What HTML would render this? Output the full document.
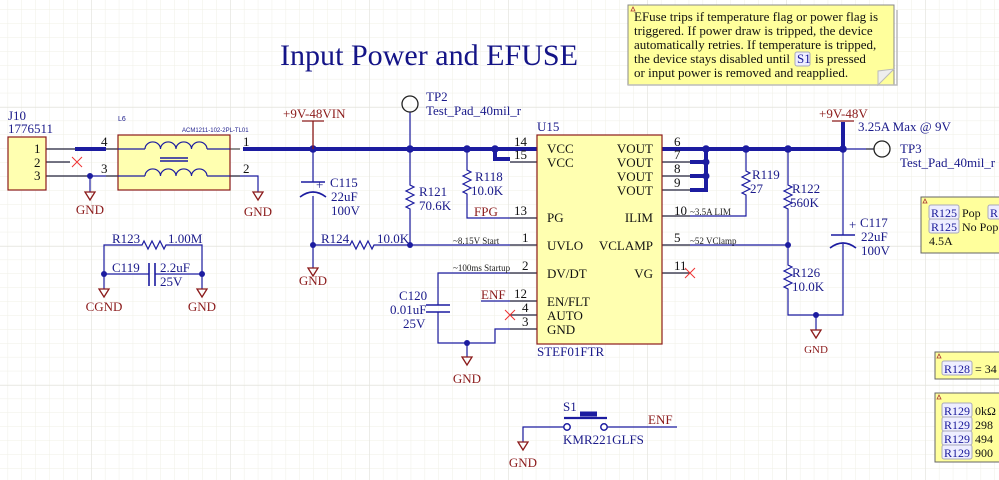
<!DOCTYPE html>
<html><head><meta charset="utf-8"><style>
html,body{margin:0;padding:0;background:#fff;}
svg{display:block;}
text{font-family:"Liberation Serif",serif;}
</style></head><body>
<svg width="999" height="480" viewBox="0 0 999 480" xmlns="http://www.w3.org/2000/svg">
<defs>
<pattern id="g" x="7.6" y="9.4" width="13.9" height="13.9" patternUnits="userSpaceOnUse">
<path d="M0 0V13.9M0 0H13.9" stroke="#efefe6" stroke-width="1" fill="none"/>
</pattern>
<pattern id="G" x="91" y="107" width="139" height="139" patternUnits="userSpaceOnUse">
<path d="M0 0V139M0 0H139" stroke="#e2e2dc" stroke-width="1.3" fill="none"/>
</pattern>
</defs>
<rect width="999" height="480" fill="url(#g)"/>
<rect width="999" height="480" fill="url(#G)"/>

<text x="280" y="65" font-size="30" fill="#141487" textLength="298" lengthAdjust="spacingAndGlyphs">Input Power and EFUSE</text>

<!-- top note -->
<rect x="628" y="5" width="266" height="80" fill="#ffff9c" stroke="#888" stroke-width="1"/>
<path d="M628 85H897V10" stroke="#bbb" fill="none" stroke-width="1.5"/>
<path d="M878 85L894 69L878 71Z" fill="#eee" stroke="#bbb"/>
<path d="M631 11l2-4 2 4z" fill="none" stroke="#a33" stroke-width="0.8"/>
<g font-size="13" fill="#111">
<text x="634" y="21">EFuse trips if temperature flag or power flag is</text>
<text x="634" y="35">triggered. If power draw is tripped, the device</text>
<text x="634" y="49">automatically retries. If temperature is tripped,</text>
<text x="634" y="63">the device stays disabled until</text>
<text x="815" y="63">is pressed</text>
<text x="634" y="77">or input power is removed and reapplied.</text>
</g>
<rect x="795" y="52" width="15" height="14" fill="#eef" stroke="#aab" rx="2"/>
<text x="797" y="63" font-size="13" fill="#1a1a9a">S1</text>

<g stroke="#1c1ca0" fill="none" stroke-width="1.2">
<path d="M46 149H75M46 162H70M46 176H118M106 149H118"/>
<path d="M90 176V192"/>
<path d="M230 176H258V192"/>
<path d="M313 149V182M313 196V268"/>
<path d="M301 182H325" stroke-width="1.6"/>
<path d="M300 197Q313 187 326 197" stroke-width="1.6"/>
<path d="M410 112V185l4 2-8 4 8 4-8 4 8 4-8 4 4 2V245"/>
<path d="M313 245H350l2-4 4 8 4-8 4 8 4-8 4 8 2-4H537"/>
<path d="M467 149V170l4 2-8 4 8 4-8 4 8 4-8 4 4 2V218H537"/>
<path d="M510 149H537M510 162H537"/>
<path d="M537 273H438V305M438 312V343H495V329H537"/>
<path d="M426 305H450M426 312H450" stroke-width="1.6"/>
<path d="M467 343V357"/>
<path d="M481 301H537M510 315H537"/>
<path d="M662 149H690M662 162H706M662 176H706M662 190H706"/>
<path d="M662 216H746V195l-4-2 8-4-8-4 8-4-8-4 8-4-4-2V149"/>
<path d="M662 245H788M662 273H690"/>
<path d="M788 149V185l4 2-8 4 8 4-8 4 8 4-8 4 4 2V265l4 2-8 4 8 4-8 4 8 4-8 4 4 2V315H843V244"/>
<path d="M816 315V330"/>
<path d="M843 149V235"/>
<path d="M831 235H855" stroke-width="1.6"/>
<path d="M830 248Q843 238 856 248" stroke-width="1.6"/>
<path d="M843 149H874"/>
<path d="M104 289V245H142l2-4 4 8 4-8 4 8 4-8 4 8 2-4H202V289"/>
<path d="M104 274H149M155 274H202"/>
<path d="M149 263V286M155 263V286" stroke-width="1.6"/>
<path d="M523 442V427H564M607 427H677"/>
<path d="M564 418H607" stroke-width="2.2"/>
<path d="M580 414H597" stroke-width="5"/>
</g>
<g stroke="#222" stroke-width="1">
<path d="M46 149H75M46 162H70M46 176H90M230 149H240M230 176H240M106 149H118M106 176H118"/>
<path d="M510 149H537M510 162H537M510 218H537M510 245H537M510 273H537M510 301H537M510 315H537M510 329H537"/>
<path d="M662 149H690M662 162H690M662 176H690M662 190H690M662 216H690M662 245H690M662 273H690"/>
<path d="M874 149H866"/>
</g>
<g stroke="#1c1ca0" stroke-width="4" fill="none" stroke-linecap="butt">
<path d="M75 149H106"/>
<path d="M243 149H843"/>
<path d="M495 149V159H510"/>
<path d="M690 149H843M706 149V190H690M706 162H690M706 176H690"/>
<path d="M843 122V149"/>
</g>
<g fill="#1c1ca0">
<circle cx="90" cy="176" r="3"/>
<circle cx="313" cy="149" r="3.8"/><circle cx="410" cy="149" r="3.8"/><circle cx="467" cy="149" r="3.8"/><circle cx="495" cy="149" r="3.8"/>
<circle cx="313" cy="245" r="3"/><circle cx="410" cy="245" r="3"/><circle cx="467" cy="343" r="3"/>
<circle cx="706" cy="149" r="3.8"/><circle cx="706" cy="162" r="3.5"/><circle cx="706" cy="176" r="3.5"/>
<circle cx="746" cy="149" r="3.8"/><circle cx="788" cy="149" r="3.8"/><circle cx="843" cy="149" r="3.8"/>
<circle cx="788" cy="245" r="3"/><circle cx="816" cy="315" r="3"/>
<circle cx="104" cy="274" r="3"/><circle cx="202" cy="274" r="3"/>
</g>
<g stroke="#8b1a1a" stroke-width="1.3" fill="none">
<path d="M302 121H324M313 121V149"/>
<path d="M832 121H854"/>
<path d="M85 192h10l-5 8z M253 192h10l-5 8z M308 268h10l-5 8z M811 330h10l-5 8z M462 357h10l-5 8z M99 289h10l-5 8z M197 289h10l-5 8z M518 442h10l-5 8z"/>
</g>
<g stroke="#222" stroke-width="1.3" fill="none">
<circle cx="410" cy="104" r="8"/>
<circle cx="882" cy="149" r="8"/>
</g>
<g stroke="#1c1ca0" stroke-width="1.5" fill="#fff">
<circle cx="567" cy="427" r="3.2"/><circle cx="604" cy="427" r="3.2"/>
</g>
<g stroke="#e33" stroke-width="1">
<path d="M72 157l10 10M82 157l-10 10"/>
<path d="M505 310l10 10M515 310l-10 10"/>
<path d="M685 268l10 10M695 268l-10 10"/>
</g>
<rect x="8" y="137" width="38" height="53" fill="#ffffb0" stroke="#8b1a1a" stroke-width="1.2"/>
<rect x="118" y="135" width="112" height="55" fill="#ffffb0" stroke="#8b1a1a" stroke-width="1.2"/>
<g stroke="#1c1ca0" fill="none" stroke-width="1.2">
<path d="M118 149H145M207 149H230M118 176H145M207 176H230"/>
<path d="M145 149a7.7 7 0 0 1 15.5 0a7.7 7 0 0 1 15.5 0a7.7 7 0 0 1 15.5 0a7.7 7 0 0 1 15.5 0"/>
<path d="M145 176a7.7 7 0 0 1 15.5 0a7.7 7 0 0 1 15.5 0a7.7 7 0 0 1 15.5 0a7.7 7 0 0 1 15.5 0"/>
<path d="M160 158H188M160 161H188" stroke-width="1.5"/>
</g>
<rect x="537" y="135" width="125" height="209" fill="#ffffb0" stroke="#8b1a1a" stroke-width="1.2"/>

<g font-size="13" fill="#1a1a8a">
<text x="8" y="120">J10</text><text x="8" y="133">1776511</text>
<text x="426" y="101">TP2</text><text x="426" y="115">Test_Pad_40mil_r</text>
<text x="537" y="131">U15</text>
<text x="537" y="356">STEF01FTR</text>
<text x="316" y="189">+</text><text x="330" y="187">C115</text><text x="331" y="201">22uF</text><text x="331" y="215">100V</text>
<text x="419" y="196">R121</text><text x="419" y="210">70.6K</text>
<text x="475" y="181">R118</text><text x="471" y="195">10.0K</text>
<text x="321" y="243">R124</text><text x="377" y="243">10.0K</text>
<text x="399" y="300">C120</text><text x="390" y="314">0.01uF</text><text x="403" y="328">25V</text>
<text x="752" y="179">R119</text><text x="750" y="193">27</text>
<text x="792" y="193">R122</text><text x="790" y="207">560K</text>
<text x="792" y="277">R126</text><text x="792" y="291">10.0K</text>
<text x="849" y="229">+</text><text x="860" y="227">C117</text><text x="861" y="241">22uF</text><text x="861" y="255">100V</text>
<text x="858" y="131">3.25A Max @ 9V</text>
<text x="900" y="153">TP3</text><text x="900" y="167">Test_Pad_40mil_r</text>
<text x="112" y="243">R123</text><text x="168" y="243">1.00M</text>
<text x="112" y="272">C119</text><text x="160" y="272">2.2uF</text><text x="160" y="286">25V</text>
<text x="563" y="411">S1</text><text x="563" y="444">KMR221GLFS</text>
</g>
<g font-size="7" fill="#1a1a8a" font-family="Liberation Sans, sans-serif">
<text x="118" y="121" style="font-family:'Liberation Sans',sans-serif">L6</text>
<text x="182" y="132" style="font-family:'Liberation Sans',sans-serif" font-size="6">ACM1211-102-2PL-TL01</text>
</g>
<g font-size="13" fill="#111">
<text x="34" y="153">1</text><text x="34" y="167">2</text><text x="34" y="180">3</text>
<text x="101" y="146">4</text><text x="101" y="173">3</text>
<text x="243" y="146">1</text><text x="243" y="173">2</text>
<text x="514" y="146">14</text><text x="514" y="159">15</text><text x="514" y="215">13</text>
<text x="522" y="242">1</text><text x="522" y="270">2</text><text x="514" y="298">12</text>
<text x="522" y="312">4</text><text x="522" y="326">3</text>
<text x="674" y="146">6</text><text x="674" y="159">7</text><text x="674" y="173">8</text><text x="674" y="187">9</text>
<text x="674" y="215">10</text><text x="674" y="242">5</text><text x="674" y="270">11</text>
<text x="547" y="153">VCC</text><text x="547" y="167">VCC</text>
<text x="547" y="222">PG</text><text x="547" y="250">UVLO</text><text x="547" y="278">DV/DT</text>
<text x="547" y="306">EN/FLT</text><text x="547" y="320">AUTO</text><text x="547" y="334">GND</text>
<g text-anchor="end">
<text x="653" y="153">VOUT</text><text x="653" y="167">VOUT</text><text x="653" y="181">VOUT</text><text x="653" y="195">VOUT</text>
<text x="653" y="222">ILIM</text><text x="653" y="250">VCLAMP</text><text x="653" y="278">VG</text>
</g>
</g>
<g font-size="9" fill="#222">
<text x="453" y="244">~8.15V Start</text>
<text x="453" y="271">~100ms Startup</text>
<text x="690" y="215">~3.5A LIM</text>
<text x="690" y="244">~52 VClamp</text>
</g>
<g font-size="13" fill="#8b1a1a">
<text x="283" y="118">+9V-48VIN</text>
<text x="819" y="118">+9V-48V</text>
<text x="474" y="216">FPG</text>
<text x="481" y="299">ENF</text>
<text x="648" y="424">ENF</text>
<g text-anchor="middle">
<text x="90" y="214">GND</text><text x="258" y="216">GND</text><text x="313" y="285">GND</text>
<text x="104" y="311">CGND</text><text x="202" y="311">GND</text><text x="467" y="383">GND</text>
<text x="523" y="467">GND</text>
</g>
<text x="816" y="353" font-size="11" text-anchor="middle">GND</text>
</g>

<rect x="921" y="197" width="82" height="56" fill="#ffff9c" stroke="#666"/>
<rect x="935" y="352" width="70" height="27" fill="#ffff9c" stroke="#666"/>
<rect x="935" y="393" width="70" height="69" fill="#ffff9c" stroke="#666"/>
<g fill="none" stroke="#a33" stroke-width="0.8">
<path d="M923 203l2-4 2 4z"/><path d="M937 358l2-4 2 4z"/><path d="M937 399l2-4 2 4z"/>
</g>
<g fill="#eef" stroke="#aab">
<rect x="929" y="205" width="30" height="14" rx="2"/><rect x="988" y="205" width="14" height="14" rx="2"/>
<rect x="929" y="219" width="30" height="14" rx="2"/>
<rect x="942" y="361" width="30" height="14" rx="2"/>
<rect x="942" y="403" width="30" height="14" rx="2"/><rect x="942" y="417" width="30" height="14" rx="2"/>
<rect x="942" y="431" width="30" height="14" rx="2"/><rect x="942" y="445" width="30" height="14" rx="2"/>
</g>
<g font-size="12">
<g fill="#1a1a9a">
<text x="931" y="217">R125</text><text x="990" y="217">R</text><text x="931" y="231">R125</text>
<text x="944" y="373">R128</text>
<text x="944" y="415">R129</text><text x="944" y="429">R129</text><text x="944" y="443">R129</text><text x="944" y="457">R129</text>
</g>
<g fill="#111">
<text x="962" y="217">Pop</text><text x="962" y="231">No Pop</text><text x="929" y="245">4.5A</text>
<text x="975" y="373">= 34</text>
<text x="975" y="415">0kΩ</text><text x="975" y="429">298</text><text x="975" y="443">494</text><text x="975" y="457">900</text>
</g>
</g>
</svg>
</body></html>
